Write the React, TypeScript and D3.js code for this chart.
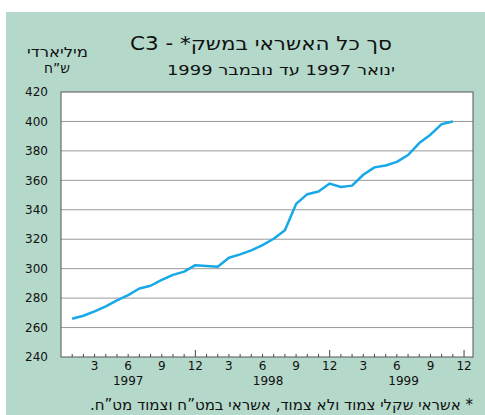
import React from "react";
import * as d3 from "d3";

// monthly values, Jan 1997 .. Nov 1999 (billion NIS)
const credit1997 = [266, 268, 271, 274.4, 278.4, 282, 286.5, 288.4, 292.4, 295.8, 298, 302.4];
const credit1998 = [301.8, 301.3, 307.4, 309.7, 312.4, 316, 320.3, 326.1, 344, 350.6, 352.4, 357.8];
const credit1999 = [355.5, 356.4, 363.8, 368.8, 370.1, 372.5, 377.2, 385.3, 391, 398.2, 400];

const yTicks = [240, 260, 280, 300, 320, 340, 360, 380, 400, 420];
const monthLabels = [3, 6, 9, 12];
const years = ["1997", "1998", "1999"];
const yearCenters = [6, 18.5, 30.6];

const title = "סך כל האשראי במשק* - C3";
const subtitle = "ינואר 1997 עד נובמבר 1999";
const unitLine1 = "מיליארדי";
const unitLine2 = "ש”ח";
const footnote = "* אשראי שקלי צמוד ולא צמוד, אשראי במט”ח וצמוד מט”ח.";

const rtl = { direction: "rtl" as const, unicodeBidi: "embed" as const };

const App = () => {
  const W = 485;
  const H = 415;
  const font = "'DejaVu Sans', sans-serif";

  const values = [...credit1997, ...credit1998, ...credit1999];
  const data = values.map((v, i) => ({ m: i + 1, v }));

  const x = d3.scaleLinear().domain([0, 36.8]).range([61, 473]);
  const y = d3.scaleLinear().domain([240, 420]).range([357, 92]);

  const line = d3
    .line<{ m: number; v: number }>()
    .x((d) => x(d.m))
    .y((d) => y(d.v));

  const months = d3.range(1, 37);

  return (
    <svg
      width={W}
      height={H}
      style={{ position: "absolute", left: 0, top: 0 }}
      fontFamily={font}
    >
      <rect x={0} y={0} width={W} height={H} fill="#fff" />
      <rect x={6} y={12} width={W - 6} height={H - 12} fill="#b4d8ca" />

      {/* titles */}
      <text x={261} y={50} fontSize={19} textAnchor="middle" fill="#111" style={rtl}
        textLength={262} lengthAdjust="spacingAndGlyphs">
        {title}
      </text>
      <text x={281} y={75} fontSize={14} textAnchor="middle" fill="#111" style={rtl}
        textLength={228} lengthAdjust="spacingAndGlyphs">
        {subtitle}
      </text>
      <text x={57.5} y={57} fontSize={14} textAnchor="middle" fill="#111" style={rtl}
        textLength={61} lengthAdjust="spacingAndGlyphs">
        {unitLine1}
      </text>
      <text x={57} y={73} fontSize={14} textAnchor="middle" fill="#111" style={rtl}
        textLength={26} lengthAdjust="spacingAndGlyphs">
        {unitLine2}
      </text>

      {/* plot area */}
      <rect x={61} y={92} width={412} height={265} fill="#fff" />
      {yTicks.slice(1, -1).map((t) => (
        <line key={t} x1={61} x2={473} y1={y(t)} y2={y(t)} stroke="#9a9a9a" strokeWidth={1} />
      ))}
      {yTicks.map((t) => (
        <text key={t} x={48} y={y(t)} dy="0.35em" fontSize={12} textAnchor="end" fill="#111">
          {t}
        </text>
      ))}

      {/* month ticks */}
      {months.map((m) => (
        <line
          key={m}
          x1={x(m)}
          x2={x(m)}
          y1={357}
          y2={m % 12 === 0 ? 350 : 354}
          stroke="#444"
          strokeWidth={1}
        />
      ))}
      {months
        .filter((m) => monthLabels.includes(((m - 1) % 12) + 1))
        .map((m) => (
          <text key={m} x={x(m)} y={370} fontSize={12} textAnchor="middle" fill="#111">
            {((m - 1) % 12) + 1}
          </text>
        ))}
      {years.map((yr, i) => (
        <text key={yr} x={x(yearCenters[i])} y={385} fontSize={12} textAnchor="middle" fill="#111">
          {yr}
        </text>
      ))}

      <rect x={61} y={92} width={412} height={265} fill="none" stroke="#555" strokeWidth={1} />

      <path d={line(data) || ""} fill="none" stroke="#17a8e8" strokeWidth={2.5} strokeLinejoin="round" />

      <text x={281.5} y={410} fontSize={15} textAnchor="middle" fill="#111" style={rtl}
        textLength={383} lengthAdjust="spacingAndGlyphs">
        {footnote}
      </text>
    </svg>
  );
};

export default App;
